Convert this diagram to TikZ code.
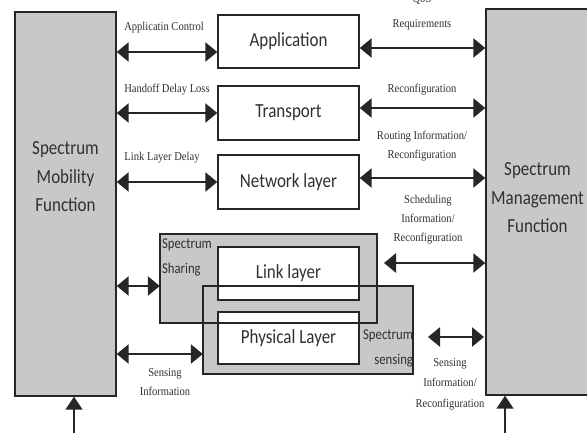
\documentclass[tikz,border=0pt]{standalone}
\usepackage{fontspec}
\usetikzlibrary{arrows.meta}
\newfontfamily\bigf[FakeStretch=0.85]{Carlito}
\newfontfamily\smallf[FakeStretch=0.88]{Liberation Serif}
\definecolor{boxgray}{HTML}{C8C8C8}
\definecolor{ink}{HTML}{262626}
\definecolor{txt}{HTML}{303030}
\tikzset{
  sidebox/.style={draw=ink, line width=1.4pt, fill=boxgray, inner sep=0pt},
  sidetext/.style={font=\bigf\fontsize{20}{28.5}\selectfont, text=txt, align=center, inner sep=0pt},
  layerbox/.style={draw=ink, line width=1.4pt, fill=white, inner sep=0pt,
    minimum width=141pt, font=\bigf\fontsize{20}{24}\selectfont, text=txt},
  grayzone/.style={fill=boxgray, inner sep=0pt},
  zoneline/.style={draw=ink, line width=1.6pt},
  dbl/.style={draw=ink, line width=2.6pt,
    {Triangle[length=12pt,width=19pt]}-{Triangle[length=12pt,width=19pt]}},
  uparrow/.style={draw=ink, line width=1.6pt, -{Triangle[length=13pt,width=17pt]}},
  lbl/.style={font=\smallf\fontsize{12}{19}\selectfont, text=txt, align=center, inner sep=0pt},
  zonelbl/.style={font=\bigf\fontsize{15}{25}\selectfont, text=txt, inner sep=0pt}
}
\begin{document}
\begin{tikzpicture}[x=1pt,y=-1pt]
\clip (0,0) rectangle (587,433);
\fill[white] (0,0) rectangle (587,433);
% side boxes
\node[sidebox, minimum width=101pt, minimum height=384pt] (left) at (65.5,204) {};
\node[sidetext] (lefttext) at (65.5,177) {Spectrum\\Mobility\\Function};
\node[sidebox, minimum width=104pt, minimum height=386pt] (right) at (538,202) {};
\node[sidetext] (righttext) at (537.5,198) {Spectrum\\Management\\Function};
% gray zones
\node[grayzone, minimum width=217pt, minimum height=89pt] (sharing) at (268.5,278.5) {};
\node[grayzone, minimum width=210pt, minimum height=88pt] (sensing) at (308,330) {};
% layers
\node[layerbox, minimum height=53pt] (app) at (288.5,41.5) {Application};
\node[layerbox, minimum height=54pt] (trans) at (288.5,113) {Transport};
\node[layerbox, minimum height=54pt] (net) at (288.5,182) {Network layer};
\node[layerbox, minimum height=53pt] (link) at (288.5,273.5) {Link layer};
\node[layerbox, minimum height=52pt] (phys) at (288.5,338) {Physical Layer};
% zone borders
\draw[zoneline] (sharing.north west) rectangle (sharing.south east);
\draw[zoneline] (sensing.north west) rectangle (sensing.south east);
\node[zonelbl, anchor=north west, align=left] (sharelbl) at ([xshift=2pt,yshift=-5pt]sharing.north west)
  {Spectrum\\Sharing};
\node[zonelbl, anchor=south east, align=right] (senselbl) at ([xshift=0pt,yshift=7pt]sensing.south east)
  {Spectrum\\sensing};
% left arrows
\draw[dbl] (left.east |- 0,52) -- (app.west |- 0,52);
\draw[dbl] (left.east |- 0,113) -- (trans.west |- 0,113);
\draw[dbl] (left.east |- 0,182) -- (net.west |- 0,182);
\draw[dbl] (left.east |- 0,286) -- (sharing.west |- 0,286);
\draw[dbl] (left.east |- 0,354) -- (sensing.west |- 0,354);
% right arrows
\draw[dbl] (app.east |- 0,48) -- (right.west |- 0,48);
\draw[dbl] (trans.east |- 0,108) -- (right.west |- 0,108);
\draw[dbl] (net.east |- 0,178) -- (right.west |- 0,178);
\coordinate (schedstart) at (384,263);
\draw[dbl] (schedstart) -- (right.west |- schedstart);
\coordinate (senseA) at (428,337);
\coordinate (senseB) at (484,337);
\draw[dbl] (senseA) -- (senseB);
% bottom arrows
\coordinate (botL) at (74,440);
\coordinate (botR) at (505,440);
\draw[uparrow] (botL) -- (left.south -| botL);
\draw[uparrow] (botR) -- (right.south -| botR);
% labels
\node[lbl] (l1) at (164,28) {Applicatin Control};
\node[lbl] (l2) at (167,90) {Handoff Delay Loss};
\node[lbl] (l3) at (162,158) {Link Layer Delay};
\node[lbl] (l4) at (165,382) {Sensing\\Information};
\node[lbl, font=\smallf\fontsize{12}{25}\selectfont] (r1) at (422,12) {QoS\\Requirements};
\node[lbl] (r2) at (422,90) {Reconfiguration};
\node[lbl] (r3) at (422,146) {Routing Information/\\Reconfiguration};
\node[lbl] (r4) at (428,220) {Scheduling\\Information/\\Reconfiguration};
\node[lbl, font=\smallf\fontsize{12}{20.5}\selectfont] (r5) at (450,384) {Sensing\\Information/\\Reconfiguration};
\end{tikzpicture}
\end{document}
